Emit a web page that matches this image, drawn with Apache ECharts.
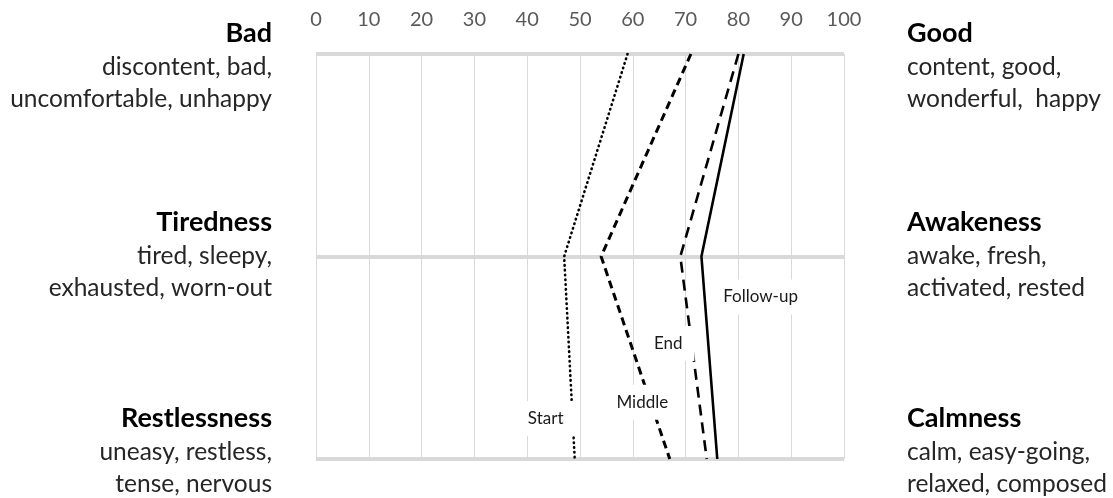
<!DOCTYPE html>
<html>
<head>
<meta charset="utf-8">
<script src="https://cdn.jsdelivr.net/npm/echarts@6/dist/echarts.min.js"></script>
<style>
html,body{margin:0;padding:0;background:#fff;}
#chart{width:1113px;height:498px;}
</style>
</head>
<body>
<div id="chart"></div>
<script>
// ---- data ----
const categories = ['Bad – Good', 'Tiredness – Awakeness', 'Restlessness – Calmness'];
const seriesNames = ['Start', 'Middle', 'End', 'Follow-up'];
const startVals = [59, 47, 49];
const middleVals = [71, 54, 67];
const endVals = [80, 69, 74];
const followVals = [81, 73, 76];
const xTickMin = 0, xTickMax = 100, xTickStep = 10;
const labelAnchorX = [43.5, 61.8, 66.7, 84.2];
const labelAnchorY = [1.80, 1.72, 1.43, 1.20];
const leftTitles = ['Bad', 'Tiredness', 'Restlessness'];
const leftWords = [
  ['discontent, bad,', 'uncomfortable, unhappy'],
  ['tired, sleepy,', 'exhausted, worn-out'],
  ['uneasy, restless,', 'tense, nervous']
];
const rightTitles = ['Good', 'Awakeness', 'Calmness'];
const rightWords = [
  ['content, good,', 'wonderful,  happy'],
  ['awake, fresh,', 'activated, rested'],
  ['calm, easy-going,', 'relaxed, composed']
];

// ---- styles ----
const FONT = 'Lato, "Open Sans", sans-serif';
const lineStyles = [
  { type: [0.5, 4.3], width: 2.6, cap: 'round' },
  { type: [8, 5], width: 3, cap: 'butt' },
  { type: [11, 7], width: 2.6, cap: 'butt' },
  { type: 'solid', width: 2.6, cap: 'butt' }
];
const allVals = [startVals, middleVals, endVals, followVals];

const chart = echarts.init(document.getElementById('chart'), null, { renderer: 'canvas' });

const lineSeries = allVals.map((vals, s) => ({
  name: seriesNames[s],
  type: 'line',
  data: vals.map((v, i) => [v, i]),
  symbol: 'none',
  z: 3,
  lineStyle: Object.assign({ color: '#000' }, lineStyles[s]),
  animation: false
}));

const labelSeries = {
  type: 'scatter',
  z: 10,
  symbolSize: 0,
  itemStyle: { color: '#fff', opacity: 1 },
  data: seriesNames.map((n, i) => ({ name: n, value: [labelAnchorX[i], labelAnchorY[i]] })),
  label: {
    show: true,
    position: 'inside',
    formatter: p => p.name,
    backgroundColor: '#fff',
    padding: [9, 12],
    color: '#1a1a1a',
    opacity: 1,
    fontFamily: FONT,
    fontSize: 17
  },
  emphasis: { disabled: true },
  animation: false
};

// side texts
const graphics = [];
const blockY = [33, 222, 418];
const lineDy = [34, 66];
function addBlock(titles, words, x, align) {
  titles.forEach((t, i) => {
    graphics.push({
      type: 'text', x: x, y: blockY[i],
      style: { text: t, align: align, verticalAlign: 'middle', fill: '#000',
               font: 'bold 27px ' + FONT }
    });
    words[i].forEach((w, j) => {
      graphics.push({
        type: 'text', x: x, y: blockY[i] + lineDy[j],
        style: { text: w, align: align, verticalAlign: 'middle', fill: '#262626',
                 font: '24.5px ' + FONT }
      });
    });
  });
}
addBlock(leftTitles, leftWords, 272, 'right');
addBlock(rightTitles, rightWords, 907, 'left');

chart.setOption({
  animation: false,
  backgroundColor: '#fff',
  grid: { left: 316, right: 269, top: 54, bottom: 39 },
  xAxis: {
    type: 'value', position: 'top',
    min: xTickMin, max: xTickMax, interval: xTickStep,
    axisLine: { show: false }, axisTick: { show: false },
    axisLabel: { color: '#595959', fontSize: 20, fontFamily: FONT, margin: 24 },
    splitLine: { show: true, lineStyle: { color: '#d9d9d9', width: 1 } }
  },
  yAxis: {
    type: 'value', min: 0, max: categories.length - 1, interval: 1, inverse: true,
    axisLine: { show: false }, axisTick: { show: false }, axisLabel: { show: false },
    splitLine: { show: true, lineStyle: { color: '#d9d9d9', width: 4 } }
  },
  series: lineSeries.concat([labelSeries]),
  graphic: graphics
});
</script>
</body>
</html>
